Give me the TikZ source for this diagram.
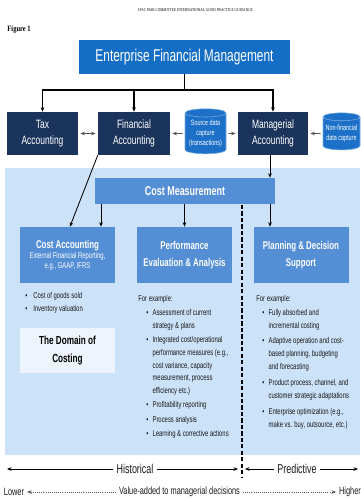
\documentclass[tikz,border=0pt]{standalone}
\usepackage{fontspec}
\setmainfont[FakeStretch=0.7]{Liberation Sans}
\newfontfamily\guideserif[FakeStretch=0.8]{Liberation Serif}
\usetikzlibrary{arrows.meta,shapes.geometric}
\definecolor{efmblue}{RGB}{20,110,198}
\definecolor{acctnavy}{RGB}{26,52,92}
\definecolor{cylblue}{RGB}{28,112,200}
\definecolor{cylrim}{RGB}{120,172,230}
\definecolor{measblue}{RGB}{84,142,212}
\definecolor{paleblue}{RGB}{204,226,248}
\definecolor{domainfill}{RGB}{238,244,251}
\definecolor{arrowgray}{RGB}{85,85,85}
\definecolor{bodytext}{RGB}{25,25,25}
\begin{document}
\begin{tikzpicture}[%
>={Stealth[length=3.2pt,width=2.6pt]},
% common options for the dark accounting blocks:
acct/.style = {fill=acctnavy, text=white, align=center, minimum height=1.075cm,
            inner sep=0, font=\fontsize{8.6}{11.5}\selectfont},
% common options for the data cylinders:
store/.style = {cylinder, shape border rotate=90, aspect=0.25, fill=cylblue,
            draw=cylrim, line width=0.4pt, text=white, align=center, inner sep=0,
            font=\fontsize{5.5}{7}\selectfont},
% common options for the mid blue blocks:
midbox/.style = {fill=measblue, text=white, align=center, inner sep=0,
            minimum width=2.375cm, minimum height=1.4cm,
            font=\bfseries\fontsize{8}{12.5}\selectfont},
% bullet lists:
note/.style = {anchor=base west, inner sep=0, text=bodytext,
            font=\fontsize{6}{9.1}\selectfont},
tree/.style = {draw=black, line width=0.8pt},
conn/.style = {draw=black, line width=0.6pt},
link/.style = {draw=arrowgray, line width=0.7pt, shorten >=1.5pt, shorten <=1.5pt},
axislabel/.style = {inner sep=2pt, text=bodytext, font=\fontsize{9.1}{10}\selectfont}]
\useasboundingbox (0,0) rectangle (9,-12.525);
% page header
\node[font=\guideserif\fontsize{3.1}{3.2}\selectfont] (Head) at (4.89,-0.25)
  {IFAC PAIB COMMITTEE INTERNATIONAL GOOD PRACTICE GUIDANCE};
\node[anchor=west, inner sep=0, font=\guideserif\bfseries\fontsize{5.8}{6}\selectfont] (Fig)
  at (0.18,-0.75) {Figure 1};
% shaded area behind the costing part
\fill[paleblue] (0.125,-4.2) rectangle (9,-11.375);
% top block and the accounting row
\node[fill=efmblue, text=white, minimum width=5.275cm, minimum height=0.85cm,
  font=\fontsize{12.1}{13}\selectfont] (EFM) at (4.6125,-1.425) {Enterprise Financial Management};
\node[acct, minimum width=1.775cm] (Tax) at (1.0625,-3.3375) {Tax\\Accounting};
\node[acct, minimum width=1.8cm] (Fin) at (3.35,-3.3375) {Financial\\Accounting};
\node[acct, minimum width=1.75cm] (Mgr) at (6.825,-3.3375) {Managerial\\Accounting};
\node[store, minimum width=1.025cm, minimum height=1.125cm] (Src) at (5.1375,-3.3375)
  {Source data\\capture\\(transactions)};
\node[store, minimum width=0.925cm, minimum height=0.925cm] (NonFin) at (8.5375,-3.3375)
  {Non-financial\\data capture};
\coordinate (split) at (4.6125,-2.25);
\draw[tree] (EFM.south) -- (split);
\draw[tree,->] (split) -| (Tax.north);
\draw[tree,->] (split) -| (Fin.north);
\draw[tree,->] (split) -| (Mgr.north);
\draw[link,<->] (Tax) -- (Fin);
\draw[link,->] (Src) -- (Fin);
\draw[link,->] (Src) -- (Mgr);
\draw[link,->] (NonFin) -- (Mgr);
% costing blocks
\node[midbox, minimum width=4.5cm, minimum height=0.65cm,
  font=\bfseries\fontsize{9.1}{10}\selectfont] (Meas) at (4.625,-4.775) {Cost Measurement};
\node[midbox, font=\fontsize{6}{7.1}\selectfont] (CostAcc) at (1.6875,-6.375)
  {{\bfseries\fontsize{8}{9}\selectfont Cost Accounting}\\External Financial Reporting,\\e.g., GAAP, IFRS};
\node[midbox] (Perf) at (4.6125,-6.375) {Performance\\Evaluation \& Analysis};
\node[midbox] (Plan) at (7.525,-6.375) {Planning \& Decision\\Support};
\node[fill=domainfill, align=center, minimum width=2.375cm, minimum height=1.125cm, inner sep=0,
  font=\bfseries\fontsize{8.3}{13.5}\selectfont] (Dom) at (1.6875,-8.7625) {The Domain of\\Costing};
\draw[conn,->] (Fin.south west) -- ([xshift=0.06cm]CostAcc.north);
\draw[conn,->] ([xshift=-0.075cm]Mgr.south) -- ([xshift=-0.075cm]Mgr.south |- Meas.north);
\draw[conn,->] ([xshift=-2.1cm]Meas.south) -- ([xshift=0.8375cm]CostAcc.north);
\draw[conn,->] (Meas.south -| Perf.north) -- (Perf.north);
\draw[conn,->] ([xshift=-0.775cm]Plan.north |- Meas.south) -- ([xshift=-0.775cm]Plan.north);
% bullet lists
\node[note] (CostList) at (0.625,-7.46) {\begin{tabular}[t]{@{}l@{\hspace{4.2pt}}l@{}}
  \textbullet & Cost of goods sold\\
  \textbullet & Inventory valuation
  \end{tabular}};
\node[note] (PerfList) at (3.45,-7.525) {\begin{tabular}[t]{@{}l@{\hspace{3pt}}l@{}}
  \multicolumn{2}{@{}l@{}}{For example:}\\[1.2pt]
  \hspace{5.7pt}\textbullet & Assessment of current\\
   & strategy \& plans\\[1pt]
  \hspace{5.7pt}\textbullet & Integrated cost/operational\\
   & performance measures (e.g.,\\
   & cost variance, capacity\\
   & measurement, process\\
   & efficiency etc.)\\[1pt]
  \hspace{5.7pt}\textbullet & Profitability reporting\\[1pt]
  \hspace{5.7pt}\textbullet & Process analysis\\[1pt]
  \hspace{5.7pt}\textbullet & Learning \& corrective actions
  \end{tabular}};
\node[note] (PlanList) at (6.4,-7.525) {\begin{tabular}[t]{@{}l@{\hspace{3pt}}l@{}}
  \multicolumn{2}{@{}l@{}}{For example:}\\[1.2pt]
  \hspace{4.3pt}\textbullet & Fully absorbed and\\
   & incremental costing\\[2pt]
  \hspace{4.3pt}\textbullet & Adaptive operation and cost-\\
   & based planning, budgeting\\
   & and\ forecasting\\[2.4pt]
  \hspace{4.3pt}\textbullet & Product process, channel, and\\
   & customer strategic adaptations\\[2.4pt]
  \hspace{4.3pt}\textbullet & Enterprise optimization (e.g.,\\
   & make vs. buy, outsource, etc.)
  \end{tabular}};
% divider between historical and predictive
\coordinate (divtop) at (6.05,-5.125);
\coordinate (divbot) at (6.05,-11.95);
\draw[line width=0.9pt, dash pattern=on 3pt off 1.6pt] (divtop) -- (divbot);
% time axis
\node[axislabel] (Hist) at (3.375,-11.725) {Historical};
\node[axislabel] (Pred) at (7.425,-11.725) {Predictive};
\coordinate (histL) at (0.175,-11.725);
\coordinate (histR) at (5.95,-11.725);
\coordinate (predL) at (6.125,-11.725);
\coordinate (predR) at (8.95,-11.725);
\draw[conn,->] (Hist.west) -- (histL);
\draw[conn,->] (Hist.east) -- (histR);
\draw[conn,->] (Pred.west) -- (predL);
\draw[conn,->] (Pred.east) -- (predR);
% value axis
\node[axislabel, font=\fontsize{7.5}{8}\selectfont] (Lower) at (0.35,-12.3) {Lower};
\node[axislabel, font=\fontsize{7.5}{8}\selectfont] (Value) at (4.4875,-12.3) {Value-added to managerial decisions};
\node[axislabel, anchor=west, font=\fontsize{7.5}{8}\selectfont] (Higher) at (8.4,-12.3) {Higher};
\draw[draw=arrowgray, line width=0.6pt, dash pattern=on 0.6pt off 0.9pt, ->] (Value.west) -- (Lower.east);
\draw[draw=arrowgray, line width=0.6pt, dash pattern=on 0.6pt off 0.9pt, ->] (Value.east) -- (Higher.west);
\end{tikzpicture}
\end{document}
